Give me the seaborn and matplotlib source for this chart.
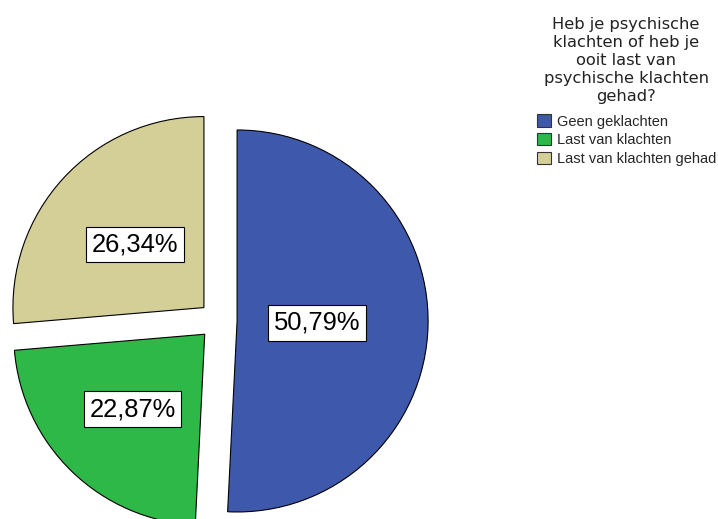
import matplotlib
matplotlib.use("Agg")
import matplotlib.pyplot as plt
from matplotlib.patches import Patch
import numpy as np
import seaborn as sns

# Answer categories and their share of respondents (%)
categories = ["Geen geklachten", "Last van klachten", "Last van klachten gehad"]
percentages = [50.79, 22.87, 26.34]
legend_title = ("Heb je psychische\nklachten of heb je\nooit last van\n"
                "psychische klachten\ngehad?")

# Styling
colors = sns.color_palette(["#3E58AC", "#2EB848", "#D4CE97"])
label_dist = [0.42, 0.545, 0.49]   # label distance from each slice's apex

sns.set_theme(style="white")
plt.rcParams["font.family"] = ["Liberation Sans", "DejaVu Sans"]

W, H = 718, 519
R = 191              # pie radius in pixels
cx, cy = 218, 320.5  # pie centre in pixels (from top-left)

fig = plt.figure(figsize=(W / 100, H / 100), dpi=100)
fig.patch.set_facecolor("white")
ax = fig.add_axes([0, 0, 1, 1])


def fmt(p):
    return f"{p:.2f}%".replace(".", ",")


wedges, texts, autotexts = ax.pie(
    percentages,
    colors=colors,
    startangle=90,
    counterclock=False,
    explode=[0.1] * len(percentages),
    autopct=fmt,
    pctdistance=0.5,
    wedgeprops=dict(edgecolor="black", linewidth=0.8),
    textprops=dict(fontsize=18.4, color="black"),
)

for w, t, d in zip(wedges, autotexts, label_dist):
    mid = np.deg2rad((w.theta1 + w.theta2) / 2)
    x0, y0 = w.center
    t.set_position((x0 + d * np.cos(mid), y0 + d * np.sin(mid)))
    t.set_ha("center")
    t.set_va("center")
    t.set_bbox(dict(boxstyle="square,pad=0.22", fc="white", ec="black", lw=0.8))

ax.set_xlim(-cx / R, (W - cx) / R)
ax.set_ylim(-(H - cy) / R, cy / R)
ax.axis("off")

# Legend title, centred above the entries
fig.text(626 / W, 1 - 16.5 / H, legend_title, ha="center", va="top",
         multialignment="center", linespacing=1.26,
         family="DejaVu Sans", fontsize=11.7, color="#222222")

handles = [Patch(facecolor=c, edgecolor="#333333", linewidth=0.8) for c in colors]
fig.legend(
    handles, categories,
    loc="upper left",
    bbox_to_anchor=(537 / W, 1 - 114.5 / H),
    frameon=False,
    borderpad=0,
    borderaxespad=0,
    fontsize=10.5,
    handlelength=0.96,
    handleheight=0.9,
    handletextpad=0.4,
    labelspacing=0.32,
)

fig.savefig("out.png", dpi=100, facecolor="white")
